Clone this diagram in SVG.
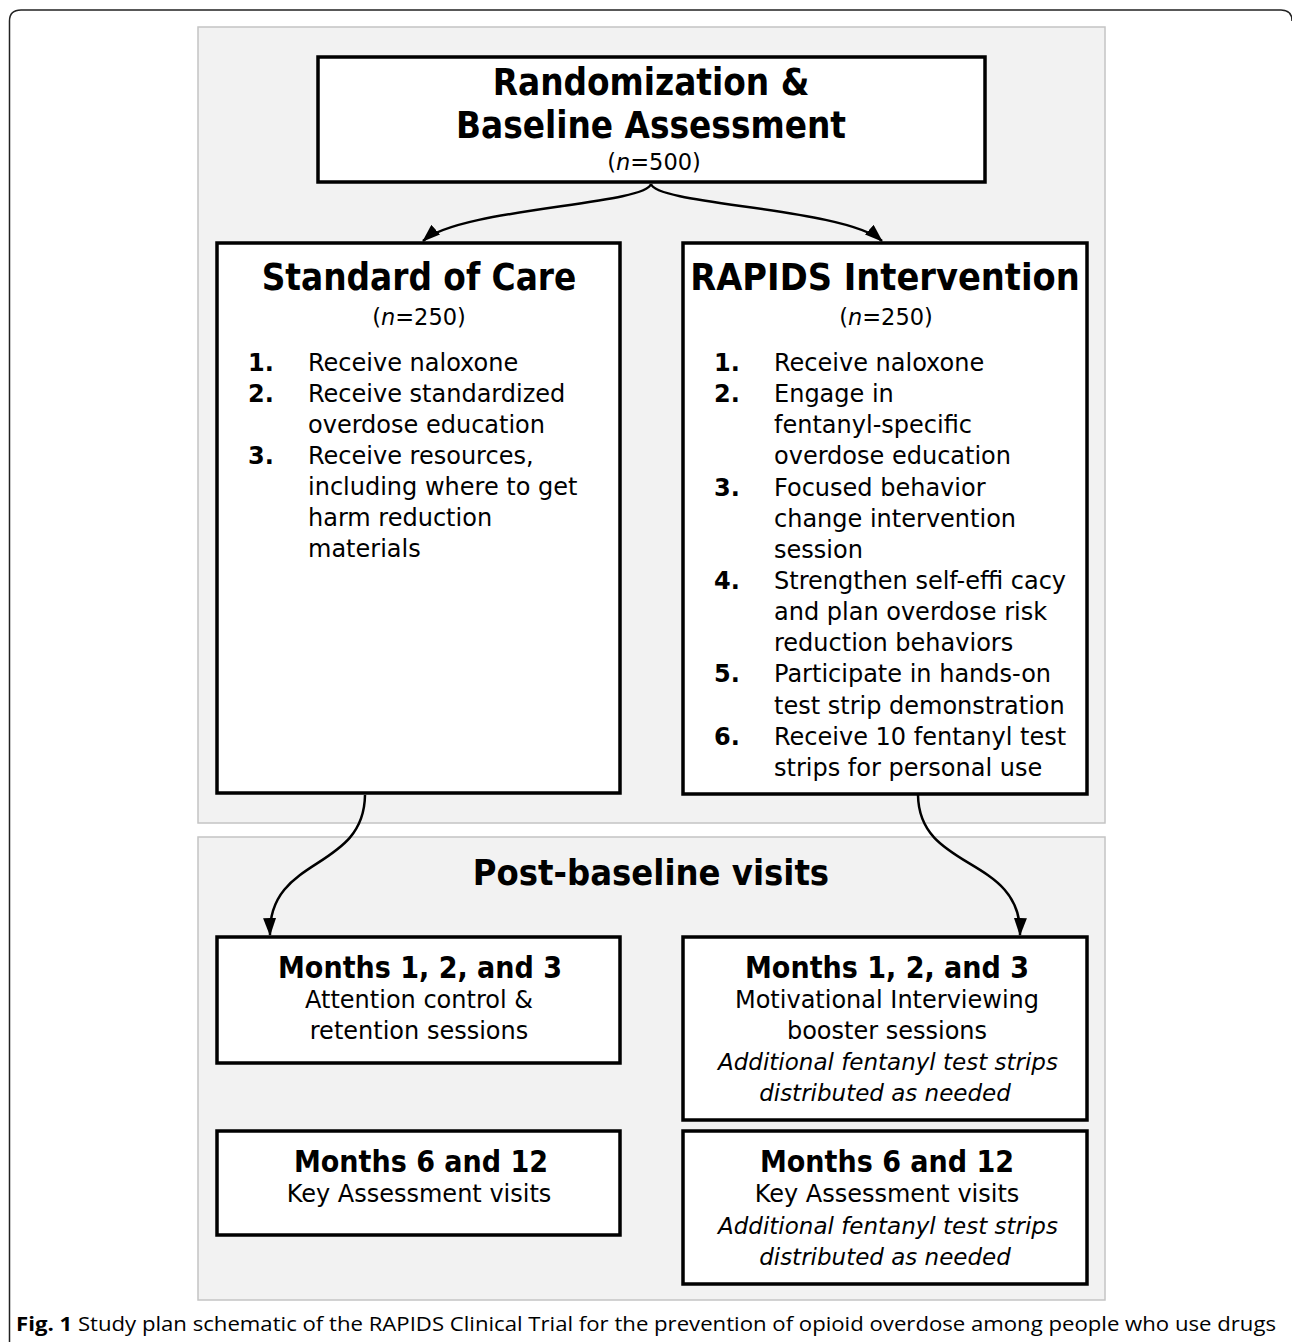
<svg xmlns="http://www.w3.org/2000/svg" width="1292" height="1342" viewBox="0 0 1292 1342">
<style>
.panel{fill:#f2f2f2;stroke:#c4c4c4;stroke-width:1.5}
.box{fill:#fff;stroke:#000;stroke-width:3.5}
.conn{fill:none;stroke:#000;stroke-width:2.5}
text{font-family:"DejaVu Sans",sans-serif;fill:#000}
.h{font-family:"DejaVu Sans Condensed","DejaVu Sans",sans-serif;font-stretch:condensed;font-size:36.5px;font-weight:bold;text-anchor:middle}
.m{font-family:"DejaVu Sans Condensed","DejaVu Sans",sans-serif;font-stretch:condensed;font-size:30px;font-weight:bold;text-anchor:middle}
.b{font-size:24px}
.c{font-size:24px;text-anchor:middle}
.n{font-size:22.5px;text-anchor:middle}
.i{font-size:23px;font-style:italic;text-anchor:middle}
.num{font-size:24px;font-weight:bold}
.cap{font-family:"Open Sans","Noto Sans",sans-serif;font-size:20px}
</style>
<defs>
<marker id="ah" viewBox="0 0 18 13" refX="17" refY="6.5" markerWidth="18" markerHeight="13" markerUnits="userSpaceOnUse" orient="auto">
<path d="M0,0 L18,6.5 L0,13 z" fill="#000"/>
</marker>
</defs>
<path d="M9.5,1342 V21 Q9.5,10 21,10 H1281 Q1292,10 1292,21" fill="none" stroke="#222" stroke-width="1.5"/>
<rect class="panel" x="198" y="27" width="907" height="796"/>
<rect class="panel" x="198" y="837" width="907" height="463"/>

<g id="randomization">
<rect class="box" x="318" y="57" width="667" height="125"/>
<text class="h" x="651" y="95">Randomization &amp;</text>
<text class="h" x="651" y="138">Baseline Assessment</text>
<text class="n" x="654" y="170">(<tspan font-style="italic">n</tspan>=500)</text>
</g>

<g id="standard-of-care">
<rect class="box" x="217" y="243" width="403" height="550"/>
<text class="h" x="419" y="290">Standard of Care</text>
<text class="n" x="419" y="325">(<tspan font-style="italic">n</tspan>=250)</text>
<text class="num" x="248" y="371">1.</text>
<text class="b" x="308" y="371">Receive naloxone</text>
<text class="num" x="248" y="402">2.</text>
<text class="b" x="308" y="402">Receive standardized</text>
<text class="b" x="308" y="433">overdose education</text>
<text class="num" x="248" y="464">3.</text>
<text class="b" x="308" y="464">Receive resources,</text>
<text class="b" x="308" y="495">including where to get</text>
<text class="b" x="308" y="526">harm reduction</text>
<text class="b" x="308" y="557">materials</text>
</g>

<g id="rapids-intervention">
<rect class="box" x="683" y="243" width="404" height="551"/>
<text class="h" x="885" y="290" style="font-size:37.5px">RAPIDS Intervention</text>
<text class="n" x="886" y="325">(<tspan font-style="italic">n</tspan>=250)</text>
<text class="num" x="714" y="371">1.</text>
<text class="b" x="774" y="371">Receive naloxone</text>
<text class="num" x="714" y="402">2.</text>
<text class="b" x="774" y="402">Engage in</text>
<text class="b" x="774" y="433">fentanyl-specific</text>
<text class="b" x="774" y="464">overdose education</text>
<text class="num" x="714" y="496">3.</text>
<text class="b" x="774" y="496">Focused behavior</text>
<text class="b" x="774" y="527">change intervention</text>
<text class="b" x="774" y="558">session</text>
<text class="num" x="714" y="589">4.</text>
<text class="b" x="774" y="589">Strengthen self-effi cacy</text>
<text class="b" x="774" y="620">and plan overdose risk</text>
<text class="b" x="774" y="651">reduction behaviors</text>
<text class="num" x="714" y="682">5.</text>
<text class="b" x="774" y="682">Participate in hands-on</text>
<text class="b" x="774" y="714">test strip demonstration</text>
<text class="num" x="714" y="745">6.</text>
<text class="b" x="774" y="745">Receive 10 fentanyl test</text>
<text class="b" x="774" y="776">strips for personal use</text>
</g>

<text class="h" x="651" y="885" style="font-size:36px">Post-baseline visits</text>

<g id="soc-months-1-3">
<rect class="box" x="217" y="937" width="403" height="126"/>
<text class="m" x="420" y="978">Months 1, 2, and 3</text>
<text class="c" x="419" y="1008">Attention control &amp;</text>
<text class="c" x="419" y="1039">retention sessions</text>
</g>

<g id="soc-months-6-12">
<rect class="box" x="217" y="1131" width="403" height="104"/>
<text class="m" x="421" y="1172">Months 6 and 12</text>
<text class="c" x="419" y="1202">Key Assessment visits</text>
</g>

<g id="rapids-months-1-3">
<rect class="box" x="683" y="937" width="404" height="183"/>
<text class="m" x="887" y="978">Months 1, 2, and 3</text>
<text class="c" x="887" y="1008">Motivational Interviewing</text>
<text class="c" x="887" y="1039">booster sessions</text>
<text class="i" x="888" y="1070">Additional fentanyl test strips</text>
<text class="i" x="885" y="1101">distributed as needed</text>
</g>

<g id="rapids-months-6-12">
<rect class="box" x="683" y="1131" width="404" height="153"/>
<text class="m" x="887" y="1172">Months 6 and 12</text>
<text class="c" x="887" y="1202">Key Assessment visits</text>
<text class="i" x="888" y="1234">Additional fentanyl test strips</text>
<text class="i" x="885" y="1265">distributed as needed</text>
</g>

<g id="connectors">
<path class="conn" marker-end="url(#ah)" d="M651,184 C645,205 460,208 423,241"/>
<path class="conn" marker-end="url(#ah)" d="M651,184 C657,205 845,208 882,241"/>
<path class="conn" marker-end="url(#ah)" d="M365,795 C364,872 268,855 270,935"/>
<path class="conn" marker-end="url(#ah)" d="M918,795 C919,872 1022,855 1020,935"/>
</g>

<text class="cap" x="16" y="1331" textLength="1260" lengthAdjust="spacingAndGlyphs"><tspan font-weight="bold">Fig. 1</tspan> Study plan schematic of the RAPIDS Clinical Trial for the prevention of opioid overdose among people who use drugs</text>
</svg>
